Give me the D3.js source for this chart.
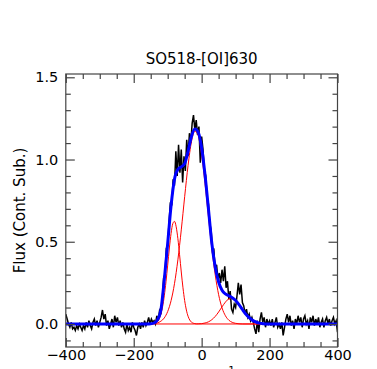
<!DOCTYPE html>
<meta charset="utf-8">
<head>
  <meta charset="utf-8">
  <title>SO518-[OI]630</title>
  <style>
    body { margin: 0; background: #fff; }
    text { font-family: "DejaVu Sans", sans-serif; fill: #000; }
    .axis path { display: none; }
    .axis line { stroke: #444; stroke-width: 1.2; }
  </style>
</head>
<body>
<div id="my_dataviz"></div>
<script src="https://d3js.org/d3.v7.min.js"></script>
<script>

// observed spectrum, one value every 4 km/s starting at -400
var specStart = -400, specStep = 4;
var specFlux = [
  0.06, 0.03, 0.00, -0.02, 0.01, -0.03, -0.02, -0.04, -0.01, -0.03,
  0.00, -0.02, -0.04, -0.01, -0.03, 0.01, -0.02, 0.02, -0.01, -0.03,
  0.01, 0.03, -0.01, 0.02, -0.02, 0.01, 0.04, 0.085, 0.03, 0.06,
  -0.01, 0.02, -0.03, 0.00, 0.03, -0.02, 0.05, 0.01, 0.04, -0.01,
  0.02, -0.02, 0.01, -0.03, -0.05, 0.00, -0.04, -0.02, -0.05, 0.01,
  -0.02, -0.04, -0.07, -0.02, 0.00, -0.03, 0.01, -0.02, 0.02, -0.01,
  0.01, 0.04, 0.00, 0.03, 0.01,
  0.02, 0.00, 0.05, 0.02, 0.08, 0.06, 0.14, 0.28, 0.30, 0.46,
  0.48, 0.62, 0.74, 0.72, 0.88, 0.84, 1.05, 0.90, 1.09, 0.92,
  1.06, 0.86, 1.02, 0.93, 1.12, 1.02, 1.16, 1.10, 1.22, 1.27,
  1.18, 1.24, 1.15, 1.20, 0.98, 1.14, 1.06, 0.94, 0.90, 0.77,
  0.73, 0.61, 0.57, 0.44, 0.45, 0.33, 0.36, 0.27, 0.31, 0.25,
  0.33, 0.26, 0.35, 0.22, 0.26, 0.15, 0.20, 0.09, 0.07, 0.12,
  0.10, 0.17, 0.25, 0.18, 0.24, 0.13, 0.11, 0.06, 0.09, 0.04,
  0.06, 0.02, 0.04, 0.01, -0.03, -0.06, 0.02, -0.05, 0.03, 0.07,
  0.01, 0.04, -0.02, 0.03, 0.00, 0.02,
  -0.01, 0.03, -0.02, 0.01, 0.04, -0.02, 0.00, -0.03, 0.01, -0.07,
  -0.02, 0.03, 0.06, 0.01, 0.05, -0.01, 0.02, -0.03, 0.03, 0.00,
  0.05, 0.01, 0.04, -0.02, 0.03, 0.05, 0.00, 0.02, -0.03, 0.04,
  0.01, 0.05, -0.01, 0.03, 0.00, 0.04, -0.02, 0.01, 0.03, -0.02,
  0.02, 0.04, 0.00, 0.03, -0.01, 0.02, 0.04, 0.00, 0.02, -0.05
];

// total fit (blue)
var fitVel  = [-400, -160, -150, -140, -130, -120, -110, -100, -90, -80, -70, -60, -50, -40, -30, -20, -10,
               0, 10, 20, 30, 40, 50, 60, 70, 80, 90, 100, 110, 120, 130, 140, 150, 160, 170, 180, 190, 400];
var fitFlux = [0, 0, 0.001, 0.006, 0.025, 0.085, 0.27, 0.49, 0.72, 0.88, 0.94, 0.955, 0.975, 1.05, 1.14, 1.185, 1.165,
               1.07, 0.905, 0.70, 0.49, 0.345, 0.255, 0.205, 0.183, 0.172, 0.16, 0.143, 0.118, 0.088, 0.06, 0.038, 0.022, 0.012, 0.005, 0.002, 0, 0];

// gaussian components (red)
var comp1Vel  = [-400, -150, -145, -140, -135, -130, -125, -120, -115, -110, -105, -100, -95, -90, -85, -80,
                 -75, -70, -65, -60, -55, -50, -45, -40, -35, -30, -25, -20, -15, 400];
var comp1Flux = [0, 0, 0.001, 0.003, 0.007, 0.015, 0.031, 0.060, 0.105, 0.171, 0.257, 0.358, 0.462, 0.551, 0.610, 0.624,
                 0.591, 0.519, 0.421, 0.316, 0.220, 0.142, 0.085, 0.047, 0.024, 0.011, 0.005, 0.002, 0, 0];

var comp2Vel  = [-400, -160, -150, -140, -130, -120, -110, -100, -90, -80, -70, -60, -50, -40, -30, -20, -10,
                 0, 10, 20, 30, 40, 50, 60, 70, 80, 90, 100, 110, 120, 400];
var comp2Flux = [0, 0, 0.001, 0.003, 0.007, 0.017, 0.037, 0.076, 0.142, 0.245, 0.390, 0.572, 0.774, 0.964, 1.108, 1.173, 1.145,
                 1.029, 0.853, 0.652, 0.459, 0.298, 0.178, 0.098, 0.050, 0.023, 0.010, 0.004, 0.001, 0, 0];

var comp3Vel  = [-400, -20, -10, 0, 10, 20, 30, 40, 50, 60, 70, 80, 90, 100, 110, 120, 130, 140, 150, 160, 170, 180, 190, 400];
var comp3Flux = [0, 0, 0.001, 0.002, 0.006, 0.013, 0.026, 0.046, 0.073, 0.104, 0.133, 0.152, 0.155, 0.142, 0.116, 0.085,
                 0.056, 0.033, 0.017, 0.008, 0.003, 0.001, 0, 0];

var xMajor = [-400, -200, 0, 200, 400];
var xMinor = [-350, -300, -250, -150, -100, -50, 50, 100, 150, 250, 300, 350];
var yMajor = [0.0, 0.5, 1.0, 1.5];
var yMinor = [-0.1, 0.1, 0.2, 0.3, 0.4, 0.6, 0.7, 0.8, 0.9, 1.1, 1.2, 1.3, 1.4];

// plot box
var W = 377, H = 369;
var boxL = 65.8, boxR = 337.5, boxT = 74, boxB = 347;

var svg = d3.select("#my_dataviz")
  .append("svg")
    .attr("width", W)
    .attr("height", H);

var x = d3.scaleLinear().domain([-400, 400]).range([boxL, boxR]);
var y = d3.scaleLinear().domain([-0.14, 1.52]).range([boxB, boxT]);

svg.append("clipPath")
    .attr("id", "clip")
  .append("rect")
    .attr("x", boxL).attr("y", boxT)
    .attr("width", boxR - boxL).attr("height", boxB - boxT);

var plot = svg.append("g").attr("clip-path", "url(#clip)");

var pairs = function(vs, fs) { return vs.map(function(v, i) { return [v, fs[i]]; }); };

var spec = specFlux.map(function(f, i) { return [specStart + i * specStep, f]; });

var rough = d3.line().x(function(d) { return x(d[0]); }).y(function(d) { return y(d[1]); });
var smooth = d3.line().curve(d3.curveMonotoneX).x(function(d) { return x(d[0]); }).y(function(d) { return y(d[1]); });

plot.append("path")
  .datum(spec)
  .attr("d", rough)
  .attr("fill", "none")
  .attr("stroke", "#000")
  .attr("stroke-width", 1.5);

[[comp1Vel, comp1Flux], [comp2Vel, comp2Flux], [comp3Vel, comp3Flux]].forEach(function(c) {
  plot.append("path")
    .datum(pairs(c[0], c[1]))
    .attr("d", smooth)
    .attr("fill", "none")
    .attr("stroke", "#ff0000")
    .attr("stroke-width", 1);
});

plot.append("path")
  .datum(pairs(fitVel, fitFlux))
  .attr("d", smooth)
  .attr("fill", "none")
  .attr("stroke", "#0000ff")
  .attr("stroke-width", 3);

// inward ticks on all four sides
var fmtX = d3.format("d"), fmtY = d3.format(".1f");
var none = function() { return ""; };

svg.append("g").attr("class", "axis").attr("transform", "translate(0," + boxB + ")")
  .call(d3.axisBottom(x).tickValues(xMajor).tickSize(-9).tickPadding(3.2).tickFormat(fmtX));
svg.append("g").attr("class", "axis").attr("transform", "translate(0," + boxB + ")")
  .call(d3.axisBottom(x).tickValues(xMinor).tickSize(-5).tickFormat(none));
svg.append("g").attr("class", "axis").attr("transform", "translate(0," + boxT + ")")
  .call(d3.axisTop(x).tickValues(xMajor).tickSize(-9).tickFormat(none));
svg.append("g").attr("class", "axis").attr("transform", "translate(0," + boxT + ")")
  .call(d3.axisTop(x).tickValues(xMinor).tickSize(-5).tickFormat(none));

svg.append("g").attr("class", "axis").attr("transform", "translate(" + boxL + ",0)")
  .call(d3.axisLeft(y).tickValues(yMajor).tickSize(-9).tickPadding(7.5).tickFormat(fmtY));
svg.append("g").attr("class", "axis").attr("transform", "translate(" + boxL + ",0)")
  .call(d3.axisLeft(y).tickValues(yMinor).tickSize(-5).tickFormat(none));
svg.append("g").attr("class", "axis").attr("transform", "translate(" + boxR + ",0)")
  .call(d3.axisRight(y).tickValues(yMajor).tickSize(-9).tickFormat(none));
svg.append("g").attr("class", "axis").attr("transform", "translate(" + boxR + ",0)")
  .call(d3.axisRight(y).tickValues(yMinor).tickSize(-5).tickFormat(none));

svg.selectAll(".axis text")
  .style("font-family", "'DejaVu Sans', sans-serif")
  .style("font-size", "14.5px")
  .attr("fill", "#000");

// frame
svg.append("rect")
  .attr("x", boxL).attr("y", boxT)
  .attr("width", boxR - boxL).attr("height", boxB - boxT)
  .attr("fill", "none")
  .attr("stroke", "#444")
  .attr("stroke-width", 1.2);

// title
svg.append("text")
  .attr("x", (boxL + boxR) / 2)
  .attr("y", 64)
  .attr("text-anchor", "middle")
  .style("font-size", "15px")
  .text("SO518-[OI]630");

// y label
svg.append("text")
  .attr("transform", "translate(24.5," + ((boxT + boxB) / 2) + ") rotate(-90)")
  .attr("text-anchor", "middle")
  .style("font-size", "15px")
  .text("Flux (Cont. Sub.)");

// x label, mostly below the window edge (only the superscript tip shows)
var xl = svg.append("text")
  .attr("x", (boxL + boxR) / 2)
  .attr("y", 383)
  .attr("text-anchor", "middle")
  .style("font-size", "15px");
xl.append("tspan").text("V (km s");
xl.append("tspan").attr("dy", -9).style("font-size", "10.5px").text("\u22121");
xl.append("tspan").attr("dy", 9).text(")");

</script>
</body>
